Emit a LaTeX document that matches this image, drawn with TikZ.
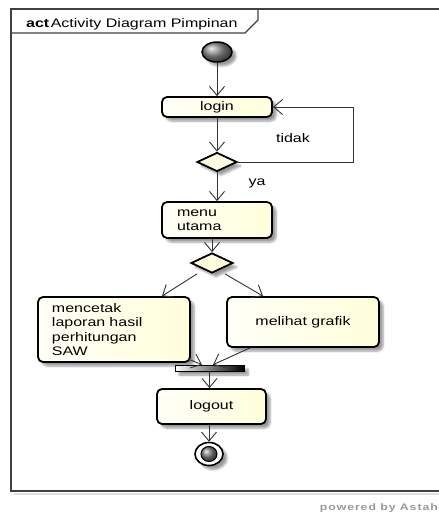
\documentclass[tikz,border=0pt]{standalone}
\usepackage{fontspec}
\setmainfont[FakeStretch=1.29]{Liberation Sans}
\usetikzlibrary{arrows.meta,shapes.geometric,shadows.blur,calc}
\begin{document}
\begin{tikzpicture}[x=1pt,y=-1pt,
  font=\fontsize{12.4}{14.3}\selectfont,
  shd/.style={blur shadow={shadow xshift=4pt,shadow yshift=-4pt,shadow blur steps=6,shadow opacity=40}},
  act/.style={draw=black,line width=1.8pt,rounded corners=5pt,left color=yellow!3,right color=yellow!14,inner sep=0pt,shd},
  dec/.style={diamond,draw=black,line width=1.8pt,fill=yellow!12,inner sep=0pt,minimum width=40pt,minimum height=19pt,shd},
  initnode/.style={ellipse,draw=black,line width=1.5pt,ball color=black!45,minimum width=30pt,minimum height=20pt,inner sep=0pt,shd},
  finouter/.style={ellipse,draw=black,line width=1.6pt,fill=white,minimum width=28pt,minimum height=23pt,inner sep=0pt,shd},
  fininner/.style={ellipse,draw=black,line width=1pt,ball color=black!50,minimum width=16pt,minimum height=15pt,inner sep=0pt},
  joinbar/.style={draw=black,line width=0.6pt,left color=white,right color=black,minimum width=69pt,minimum height=6pt,inner sep=0pt,shd},
  arr/.style={draw=black!80,line width=0.9pt,-{Straight Barb[length=9pt,width=15pt,line width=0.9pt]}},
  lbl/.style={inner sep=0pt},
  framel/.style={draw=black!75,line width=1.2pt}]
\useasboundingbox (0,0) rectangle (439,515);
% frame
\draw[black!12,line width=2.5pt] (14,494) -- (440,494);
\draw[framel] (440,9) -- (11,9) -- (11,491) -- (440,491);
\draw[framel] (11,33) -- (245,33) -- (258,20) -- (258,9);
\node[anchor=base west,inner sep=0pt] (title) at (26,27) {\textbf{act}\hspace{1.5pt}Activity Diagram Pimpinan};
% nodes
\node[initnode] (start) at (217,52) {};
\node[act,minimum width=110pt,minimum height=20pt] (login) at (217,107) {login};
\node[dec] (d1) at (217,162) {};
\node[act,minimum width=110pt,minimum height=36pt,text width=80pt,align=left] (menu) at (217,220) {menu\\utama};
\node[dec,minimum width=42pt,minimum height=20pt] (d2) at (212,263) {};
\node[act,minimum width=152pt,minimum height=65pt,text width=124pt,align=left] (cetak) at (114,329.5) {mencetak\\laporan hasil\\perhitungan\\SAW};
\node[act,minimum width=152pt,minimum height=50pt] (grafik) at (303,322) {melihat grafik};
\node[joinbar] (join) at (209.5,368) {};
\node[act,minimum width=109pt,minimum height=35pt] (logout) at (211.5,406.5) {logout};
\node[finouter] (end) at (209,454) {};
\node[fininner] (endin) at (209,454) {};
% labels
\node[lbl] (tidak) at (293,138) {tidak};
\node[lbl] (ya) at (257,183) {ya};
% connectors
\draw[arr] (start) -- (login);
\draw[arr] (login.south) -- (d1.north);
\draw[arr] (d1.south) -- (menu.north);
\draw[arr] (d1.east) -- ++(116,0) |- (login.east);
\draw[arr] (menu.south -| d2) -- (d2.north);
\draw[arr] ([xshift=-15pt]d2.south) -- ([xshift=48pt]cetak.north);
\draw[arr] ([xshift=13pt]d2.south) -- ([xshift=-40pt]grafik.north);
\draw[arr] ([xshift=74pt,yshift=4pt]cetak.south) -- ([xshift=-7.5pt]join.north);
\draw[arr] ([xshift=-53pt]grafik.south) -- ([xshift=3.5pt]join.north);
\draw[arr] (join.south) -- (join.south |- logout.north);
\draw[arr] (logout.south -| end) -- (end.north);
% footer
\node[anchor=base east,inner sep=0pt,text=black!40,font=\fontsize{9.5}{11}\selectfont\bfseries\addfontfeature{LetterSpace=10}] (astah) at (438,510) {powered by Astah};
\end{tikzpicture}
\end{document}
